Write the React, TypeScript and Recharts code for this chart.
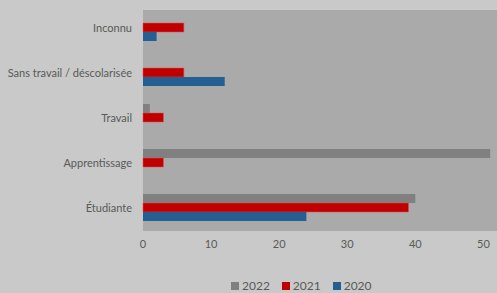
import { BarChart, Bar, XAxis, YAxis } from "recharts";

const categories = ["Inconnu", "Sans travail / déscolarisée", "Travail", "Apprentissage", "Étudiante"];
const values2022 = [0, 0, 1, 51, 40];
const values2021 = [6, 6, 3, 3, 39];
const values2020 = [2, 12, 0, 0, 24];
const xTicks = [0, 10, 20, 30, 40, 50];

const seriesNames = ["2022", "2021", "2020"];
const seriesColors = ["#808080", "#c00000", "#255e91"];

const data = categories.map((c, i) => ({
  cat: c,
  y2022: values2022[i],
  y2021: values2021[i],
  y2020: values2020[i],
}));

const FONT = "Lato, 'Open Sans', sans-serif";
const TXT = "#595959";

function CatTick(props: any) {
  const { x, y, payload } = props;
  return (
    <text x={x} y={y} dy={4} textAnchor="end" fill={TXT} fontSize={11} fontFamily={FONT}>
      {payload.value}
    </text>
  );
}

export default function App() {
  return (
    <div style={{ position: "absolute", top: 0, left: 0, width: 497, height: 293, background: "#c8c9c8", fontFamily: FONT }}>
      {/* plot area fill, as in the original it is a bit offset from the category bands */}
      <div style={{ position: "absolute", top: 10, left: 143, width: 354, height: 221, background: "#a9aaa9" }} />
      <div style={{ position: "absolute", top: 0, left: 0 }}>
        <BarChart
          width={497}
          height={293}
          data={data}
          layout="vertical"
          margin={{ top: 5, right: 0, left: 0, bottom: 33 }}
          barSize={9}
          barGap={0}
        >
          <XAxis
            type="number"
            domain={[0, 52]}
            ticks={xTicks}
            axisLine={false}
            tickLine={false}
            tickSize={0}
            tickMargin={10}
            height={30}
            tick={{ fill: TXT, fontSize: 11, fontFamily: FONT }}
          />
          <YAxis
            type="category"
            dataKey="cat"
            width={143}
            axisLine={false}
            tickLine={false}
            tickSize={0}
            tickMargin={11}
            interval={0}
            tick={<CatTick />}
          />
          <Bar dataKey="y2022" name="2022" fill={seriesColors[0]} isAnimationActive={false} />
          <Bar dataKey="y2021" name="2021" fill={seriesColors[1]} stroke="#d85050" strokeWidth={0.5} isAnimationActive={false} />
          <Bar dataKey="y2020" name="2020" fill={seriesColors[2]} isAnimationActive={false} />
        </BarChart>
      </div>
      <div style={{ position: "absolute", top: 279, left: 231, display: "flex", fontSize: 12, color: TXT, lineHeight: "14px" }}>
        {seriesNames.map((n, i) => (
          <div key={n} style={{ display: "flex", alignItems: "center", marginRight: 12 }}>
            <span style={{ display: "inline-block", width: 8, height: 8, background: seriesColors[i], marginRight: 3 }} />
            <span>{n}</span>
          </div>
        ))}
      </div>
    </div>
  );
}
